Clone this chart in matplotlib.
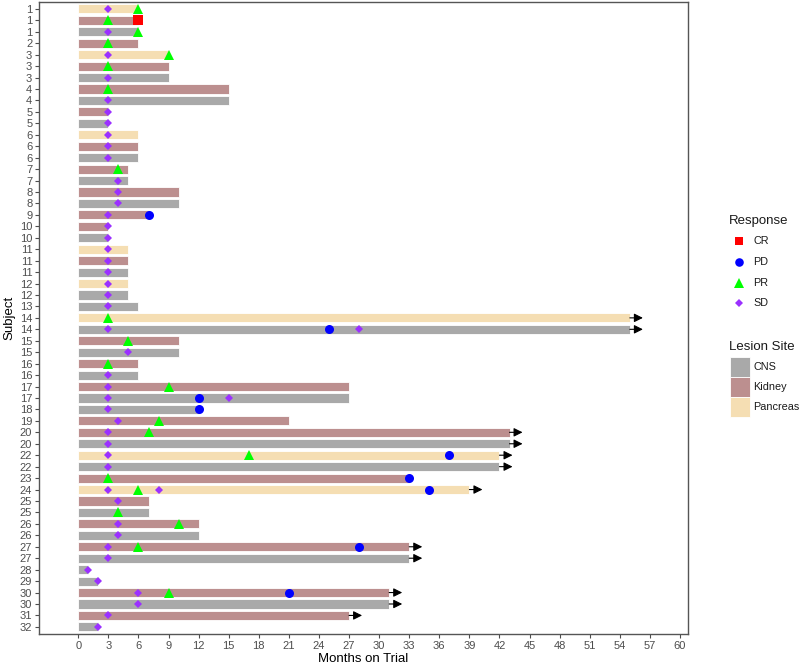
import matplotlib
matplotlib.use('Agg')
import matplotlib.pyplot as plt
from matplotlib.patches import Rectangle

plt.rcParams['font.family'] = ['Liberation Sans', 'DejaVu Sans']

# one row per subject / lesion site, top to bottom
subjects = [1, 1, 1, 2, 3, 3, 3, 4, 4, 5, 5, 6, 6, 6, 7, 7, 8, 8, 9, 10, 10, 11, 11, 11, 12, 12, 13,
            14, 14, 15, 15, 16, 16, 17, 17, 18, 19, 20, 20, 22, 22, 23, 24, 25, 25, 26, 26, 27, 27,
            28, 29, 30, 30, 31, 32]
sites = ['Pancreas', 'Kidney', 'CNS', 'Kidney', 'Pancreas', 'Kidney', 'CNS', 'Kidney', 'CNS',
         'Kidney', 'CNS', 'Pancreas', 'Kidney', 'CNS', 'Kidney', 'CNS', 'Kidney', 'CNS', 'Kidney',
         'Kidney', 'CNS', 'Pancreas', 'Kidney', 'CNS', 'Pancreas', 'CNS', 'CNS', 'Pancreas', 'CNS',
         'Kidney', 'CNS', 'Kidney', 'CNS', 'Kidney', 'CNS', 'CNS', 'Kidney', 'Kidney', 'CNS',
         'Pancreas', 'CNS', 'Kidney', 'Pancreas', 'Kidney', 'CNS', 'Kidney', 'CNS', 'Kidney', 'CNS',
         'CNS', 'CNS', 'Kidney', 'CNS', 'Kidney', 'CNS']
months = [6, 6, 6, 6, 9, 9, 9, 15, 15, 3, 3, 6, 6, 6, 5, 5, 10, 10, 7, 3, 3, 5, 5, 5, 5, 5, 6,
          55, 55, 10, 10, 6, 6, 27, 27, 12, 21, 43, 43, 42, 42, 33, 39, 7, 7, 12, 12, 33, 33,
          1, 2, 31, 31, 27, 2]
ongoing = [27, 28, 37, 38, 39, 40, 42, 47, 48, 51, 52, 53]

# responses: (row, month)
cr = [(1, 6)]
pd_ = [(18, 7), (28, 25), (34, 12), (35, 12), (39, 37), (41, 33), (42, 35), (47, 28), (51, 21)]
pr = [(0, 6), (1, 3), (2, 6), (3, 3), (4, 9), (5, 3), (7, 3), (14, 4), (27, 3), (29, 5), (31, 3),
      (33, 9), (36, 8), (37, 7), (39, 17), (41, 3), (42, 6), (44, 4), (45, 10), (47, 6), (51, 9)]
sd = [(0, 3), (2, 3), (4, 3), (6, 3), (8, 3), (9, 3), (10, 3), (11, 3), (12, 3), (13, 3), (15, 4),
      (16, 4), (17, 4), (18, 3), (19, 3), (20, 3), (21, 3), (22, 3), (23, 3), (24, 3), (25, 3),
      (26, 3), (28, 3), (28, 28), (30, 5), (32, 3), (33, 3), (34, 3), (34, 15), (35, 3), (36, 4),
      (37, 3), (38, 3), (39, 3), (40, 3), (42, 3), (42, 8), (43, 4), (45, 4), (46, 4), (47, 3),
      (48, 3), (49, 1), (50, 2), (51, 6), (52, 6), (53, 3), (54, 2)]

colores = {'CNS': '#A9A9A9', 'Kidney': '#BC8F8F', 'Pancreas': '#F5DEB3'}
estilos = {'CR': ('s', '#FF0000', 6.5), 'PD': ('o', '#0000FF', 6.5),
           'PR': ('^', '#00FF00', 7.5), 'SD': ('D', '#9B30FF', 4.5)}
gris = '#4D4D4D'

fig = plt.figure(figsize=(8, 6.65), dpi=100)
ax = fig.add_axes([0.049, 0.047, 0.811, 0.95])

filas = list(range(len(subjects)))
ax.barh(filas, months, height=0.8, left=0, color=[colores[s] for s in sites],
        edgecolor='white', linewidth=0.6, zorder=2)

for i in ongoing:
    ax.annotate('', xy=(months[i] + 1.3, i), xytext=(months[i], i),
                arrowprops=dict(arrowstyle='-|>', color='black', lw=0.8,
                                mutation_scale=13, shrinkA=0, shrinkB=0), zorder=3)

def puntos(lista, clave):
    marker, color, ms = estilos[clave]
    ax.plot([m for r, m in lista], [r for r, m in lista], linestyle='none', marker=marker,
            color=color, markersize=ms, markeredgewidth=0, zorder=4)

puntos(sd, 'SD')
puntos(pr, 'PR')
puntos(pd_, 'PD')
puntos(cr, 'CR')

ax.set_xlim(-3.9, 60.8)
ax.set_ylim(len(subjects) - 0.4, -0.6)
ax.set_xticks(range(0, 61, 3))
ax.set_yticks(filas)
ax.set_yticklabels([str(s) for s in subjects])
ax.tick_params(axis='both', colors=gris, labelsize=8, length=3, width=0.8, pad=2)
for sp in ax.spines.values():
    sp.set_color('#555555')
    sp.set_linewidth(1)
ax.set_xlabel('Months on Trial', fontsize=9.5, labelpad=2)
ax.set_ylabel('Subject', fontsize=9.5, labelpad=3)

# leyendas dibujadas a mano en coordenadas de pixel
lg = fig.add_axes([700 / 800, 0, 100 / 800, 1])
lg.set_xlim(700, 800)
lg.set_ylim(665, 0)
lg.axis('off')

lg.text(729, 221, 'Response', fontsize=9.5, va='center', ha='left', color='#1a1a1a')
for k, (clave, y) in enumerate(zip(['CR', 'PD', 'PR', 'SD'], [241, 262, 283, 303])):
    marker, color, ms = estilos[clave]
    lg.plot([739], [y], marker=marker, color=color, markersize=ms * 0.95, markeredgewidth=0,
            linestyle='none')
    lg.text(753, y, clave, fontsize=7.8, va='center', ha='left', color='#1a1a1a')

lg.text(729, 347, 'Lesion Site', fontsize=9.5, va='center', ha='left', color='#1a1a1a')
for k, s in enumerate(['CNS', 'Kidney', 'Pancreas']):
    y0 = 357 + 20 * k
    lg.add_patch(Rectangle((730, y0), 20, 20, facecolor=colores[s], edgecolor='white', lw=0.6))
    lg.text(753, y0 + 10, s, fontsize=7.8, va='center', ha='left', color='#1a1a1a')

fig.savefig('out.png', dpi=100)
